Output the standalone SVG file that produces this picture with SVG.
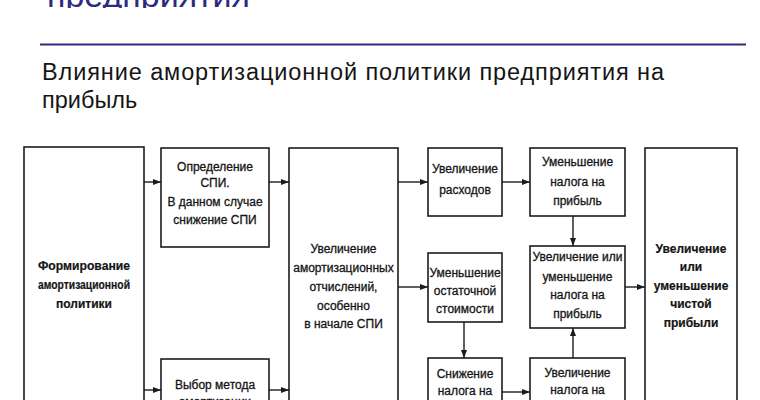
<svg xmlns="http://www.w3.org/2000/svg" width="760" height="400" viewBox="0 0 760 400">
<defs>
<style>
.box{fill:#fff;stroke:#1c1c1c;stroke-width:1.6}
.t{font-family:"Liberation Sans",Arial,sans-serif;font-size:12px;fill:#151515;stroke:#151515;stroke-width:0.3;text-anchor:middle}
.b{font-weight:bold;stroke-width:0.2}
.c{stroke:#1c1c1c;stroke-width:1.4;fill:none;marker-end:url(#ah)}
.sub{font-family:"Liberation Sans",Arial,sans-serif;font-size:23.5px;fill:#151515}
</style>
<marker id="ah" viewBox="0 0 8 6" refX="8" refY="3" markerWidth="8" markerHeight="6" markerUnits="userSpaceOnUse" orient="auto">
<path d="M0,0 L8,3 L0,6 Z" fill="#1c1c1c"/>
</marker>
<clipPath id="topclip"><rect x="0" y="0" width="760" height="8"/></clipPath>
</defs>
<rect width="760" height="400" fill="#fff"/>
<g id="heading">
<text x="47" y="7" clip-path="url(#topclip)" style="font-family:'Liberation Sans',Arial,sans-serif;font-size:34px;fill:#2c2b7f">предприятия</text>
<line x1="40" y1="44.5" x2="746" y2="44.5" stroke="#2e2c7e" stroke-width="2"/>
<text class="sub" x="42" y="80" textLength="622" lengthAdjust="spacing">Влияние амортизационной политики предприятия на</text>
<text class="sub" x="42" y="108">прибыль</text>
</g>
<g id="connectors">
<line class="c" x1="144" y1="182" x2="161" y2="182"/>
<line class="c" x1="144" y1="390" x2="161" y2="390"/>
<line class="c" x1="269" y1="182" x2="289" y2="182"/>
<line class="c" x1="269" y1="390" x2="289" y2="390"/>
<line class="c" x1="398" y1="182" x2="428" y2="182"/>
<line class="c" x1="398" y1="287" x2="428" y2="287"/>
<line class="c" x1="464" y1="322" x2="464" y2="358"/>
<line class="c" x1="502" y1="182" x2="530" y2="182"/>
<line class="c" x1="502" y1="392" x2="530" y2="392"/>
<line class="c" x1="573" y1="216" x2="573" y2="246"/>
<line class="c" x1="573" y1="358" x2="573" y2="328"/>
<line class="c" x1="625" y1="287" x2="645" y2="287"/>
</g>
<g id="n-formirovanie">
<rect class="box" x="24" y="147" width="120" height="270"/>
<text class="t b" x="84" y="270" textLength="92" lengthAdjust="spacingAndGlyphs">Формирование</text>
<text class="t b" x="84" y="289" textLength="92" lengthAdjust="spacingAndGlyphs">амортизационной</text>
<text class="t b" x="84" y="308">политики</text>
</g>
<g id="n-opredelenie">
<rect class="box" x="161" y="148" width="108" height="99"/>
<text class="t" x="215" y="171">Определение</text>
<text class="t" x="215" y="187">СПИ.</text>
<text class="t" x="215" y="206">В данном случае</text>
<text class="t" x="215" y="224">снижение СПИ</text>
</g>
<g id="n-vybor">
<rect class="box" x="161" y="359" width="108" height="60"/>
<text class="t" x="215" y="389">Выбор метода</text>
<text class="t" x="215" y="406">амортизации</text>
</g>
<g id="n-uvelichenie-amort">
<rect class="box" x="289" y="148" width="109" height="270"/>
<text class="t" x="343.5" y="253">Увеличение</text>
<text class="t" x="343.5" y="272">амортизационных</text>
<text class="t" x="343.5" y="291">отчислений,</text>
<text class="t" x="343.5" y="310">особенно</text>
<text class="t" x="343.5" y="328">в начале СПИ</text>
</g>
<g id="n-rashody">
<rect class="box" x="428" y="148" width="74" height="68"/>
<text class="t" x="465" y="173">Увеличение</text>
<text class="t" x="465" y="194">расходов</text>
</g>
<g id="n-ostatochnaya">
<rect class="box" x="428" y="253" width="74" height="69"/>
<text class="t" x="465" y="277">Уменьшение</text>
<text class="t" x="465" y="295">остаточной</text>
<text class="t" x="465" y="313">стоимости</text>
</g>
<g id="n-snizhenie">
<rect class="box" x="428" y="358" width="74" height="60"/>
<text class="t" x="465" y="378">Снижение</text>
<text class="t" x="465" y="395">налога на</text>
</g>
<g id="n-umenshenie-naloga">
<rect class="box" x="530" y="148" width="95" height="68"/>
<text class="t" x="577.5" y="166">Уменьшение</text>
<text class="t" x="577.5" y="186">налога на</text>
<text class="t" x="577.5" y="205">прибыль</text>
</g>
<g id="n-uvel-umen-naloga">
<rect class="box" x="530" y="246" width="95" height="82"/>
<text class="t" x="577.5" y="261">Увеличение или</text>
<text class="t" x="577.5" y="281">уменьшение</text>
<text class="t" x="577.5" y="299">налога на</text>
<text class="t" x="577.5" y="318">прибыль</text>
</g>
<g id="n-uvelichenie-naloga">
<rect class="box" x="530" y="358" width="95" height="60"/>
<text class="t" x="577.5" y="377">Увеличение</text>
<text class="t" x="577.5" y="394">налога на</text>
</g>
<g id="n-chistaya-pribyl">
<rect class="box" x="645" y="148" width="92" height="270"/>
<text class="t b" x="691" y="253">Увеличение</text>
<text class="t b" x="691" y="271">или</text>
<text class="t b" x="691" y="290">уменьшение</text>
<text class="t b" x="691" y="308">чистой</text>
<text class="t b" x="691" y="327">прибыли</text>
</g>
</svg>
